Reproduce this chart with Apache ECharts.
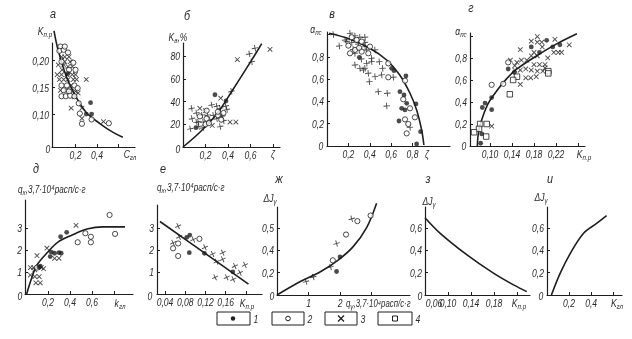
<!DOCTYPE html>
<html><head><meta charset="utf-8">
<script src="https://cdn.jsdelivr.net/npm/echarts@6/dist/echarts.min.js"></script>
<style>html,body{margin:0;padding:0;background:#fff}#c{width:632px;height:339px}</style>
</head><body><div id="c"></div><script>
// ---------- DATA ----------
// panel а
const aCurveX=[0,0.04,0.12,0.21,0.30,0.43,0.55,0.64];
const aCurveY=[0.255,0.218,0.168,0.131,0.104,0.083,0.067,0.058];
const aCross=[[0.05,0.235],[0.10,0.236],[0.07,0.207],[0.10,0.207],[0.14,0.207],[0.10,0.198],[0.15,0.198],[0.04,0.192],[0.09,0.192],[0.13,0.189],[0.17,0.189],[0.075,0.183],[0.03,0.174],[0.07,0.174],[0.12,0.174],[0.17,0.174],[0.20,0.174],[0.05,0.165],[0.09,0.165],[0.13,0.165],[0.18,0.165],[0.21,0.165],[0.30,0.165],[0.16,0.154],[0.06,0.145],[0.105,0.145],[0.15,0.145],[0.20,0.143],[0.225,0.140],[0.16,0.112],[0.26,0.112],[0.26,0.093],[0.46,0.087],[0.19,0.133]];
const aOpen=[[0.06,0.226],[0.05,0.218],[0.09,0.220],[0.13,0.215],[0.07,0.198],[0.18,0.196],[0.14,0.183],[0.20,0.183],[0.07,0.154],[0.12,0.154],[0.19,0.154],[0.22,0.149],[0.09,0.145],[0.14,0.143],[0.07,0.134],[0.11,0.134],[0.15,0.135],[0.19,0.134],[0.23,0.121],[0.24,0.102],[0.26,0.083],[0.35,0.091],[0.51,0.084],[0.10,0.226]];
const aFilled=[[0.34,0.122],[0.30,0.101],[0.35,0.101],[0.13,0.176]];
const aXTicks=[0.2,0.4,0.6], aXLabels=['0,2','0,4',''];
const aYTicks=[0.10,0.15,0.20], aYLabels=['0,10','0,15','0,20'];
// panel б
const bCurveX=[0,0.15,0.30,0.44,0.60,0.70];
const bCurveY=[0,13,29,50,75,91];
const bPlus=[[0.59,82],[0.64,87],[0.61,75],[0.43,49],[0.33,18],[0.136,22],[0.255,37],[0.30,36],[0.33,34],[0.38,36],[0.077,34],[0.12,30],[0.17,28],[0.22,28],[0.27,28],[0.34,28],[0.39,33],[0.08,25],[0.12,22],[0.18,22],[0.24,24],[0.30,25],[0.36,23],[0.14,18],[0.18,17],[0.065,16],[0.35,27]];
const bCross=[[0.773,86],[0.483,77],[0.335,43],[0.418,22],[0.47,22],[0.15,34],[0.20,32],[0.26,19]];
const bOpen=[[0.15,27],[0.21,25],[0.31,28],[0.36,30],[0.34,24],[0.20,20],[0.23,21],[0.21,32],[0.31,31]];
const bFilled=[[0.284,46],[0.382,40.5],[0.115,17]];
const bXTicks=[0.2,0.4,0.6,0.8], bXLabels=['0,2','0,4','0,6',''];
const bYTicks=[20,40,60,80], bYLabels=['20','40','60','80'];
// panel в
const vCurveX=[0.02,0.215,0.40,0.558,0.68,0.776,0.838,0.885,0.906];
const vCurveY=[1.01,0.957,0.876,0.771,0.637,0.473,0.323,0.143,0.009];
const vPlus=[[0.059,1.0],[0.115,0.897],[0.215,1.01],[0.262,0.987],[0.308,0.975],[0.355,0.975],[0.184,0.936],[0.231,0.927],[0.293,0.915],[0.355,0.927],[0.246,0.867],[0.302,0.867],[0.355,0.891],[0.371,0.861],[0.449,0.861],[0.262,0.726],[0.308,0.696],[0.355,0.696],[0.371,0.741],[0.417,0.756],[0.417,0.786],[0.340,0.682],[0.386,0.652],[0.449,0.622],[0.489,0.756],[0.520,0.696],[0.396,0.577],[0.511,0.637],[0.620,0.616],[0.480,0.487],[0.564,0.473],[0.558,0.359],[0.776,0.167],[0.17,0.95],[0.26,0.83],[0.32,0.78]];
const vOpen=[[0.231,0.975],[0.277,0.951],[0.324,0.936],[0.215,0.831],[0.262,0.861],[0.324,0.846],[0.386,0.831],[0.402,0.891],[0.20,0.90],[0.30,0.88],[0.573,0.741],[0.573,0.616],[0.729,0.586],[0.713,0.419],[0.776,0.338],[0.822,0.257],[0.729,0.239],[0.760,0.197],[0.745,0.113]];
const vFilled=[[0.302,0.795],[0.604,0.696],[0.626,0.675],[0.738,0.628],[0.682,0.487],[0.720,0.458],[0.745,0.383],[0.698,0.338],[0.729,0.323],[0.832,0.377],[0.673,0.224],[0.875,0.128],[0.838,0.018]];
const vXTicks=[0.2,0.4,0.6,0.8], vXLabels=['0,2','0,4','0,6','0,8'];
const vYTicks=[0.2,0.4,0.6,0.8,1.0], vYLabels=['0,2','0,4','0,6','0,8',''];
// panel г
const gCurveX=[0.077,0.078,0.082,0.096,0.112,0.13,0.149,0.185,0.222,0.258];
const gCurveY=[0,0.08,0.19,0.38,0.50,0.61,0.70,0.82,0.93,1.02];
const gCross=[[0.186,0.995],[0.175,0.953],[0.186,0.944],[0.194,0.944],[0.218,0.97],[0.244,0.92],[0.216,0.85],[0.224,0.85],[0.23,0.85],[0.155,0.875],[0.18,0.85],[0.175,0.82],[0.186,0.82],[0.137,0.78],[0.149,0.76],[0.157,0.78],[0.167,0.78],[0.18,0.74],[0.19,0.74],[0.20,0.74],[0.145,0.73],[0.145,0.69],[0.155,0.69],[0.165,0.70],[0.175,0.69],[0.186,0.68],[0.196,0.68],[0.20,0.71],[0.165,0.62],[0.174,0.62],[0.184,0.63],[0.155,0.56],[0.103,0.18],[0.205,0.80],[0.195,0.90]];
const gFilled=[[0.203,0.96],[0.214,0.90],[0.227,0.92],[0.175,0.90],[0.19,0.85],[0.133,0.70],[0.144,0.67],[0.103,0.44],[0.091,0.39],[0.086,0.35],[0.103,0.33],[0.085,0.11],[0.083,0.025]];
const gOpen=[[0.133,0.76],[0.124,0.565],[0.103,0.556]];
const gSquare=[[0.149,0.63],[0.142,0.60],[0.206,0.68],[0.206,0.66],[0.136,0.47],[0.082,0.20],[0.094,0.20],[0.08,0.156],[0.071,0.125],[0.093,0.086]];
const gXTicks=[0.10,0.14,0.18,0.22,0.26], gXLabels=['0,10','0,14','0,18','0,22',''];
const gYTicks=[0.2,0.4,0.6,0.8,1.0], gYLabels=['0,2','0,4','0,6','0,8',''];
// panel д
const dCurveX=[0.006,0.055,0.10,0.19,0.29,0.42,0.555,0.70,0.90];
const dCurveY=[0,0.77,1.32,1.86,2.36,2.68,2.95,3.05,3.05];
const dOpen=[[0.76,3.59],[0.81,2.73],[0.54,2.76],[0.59,2.6],[0.59,2.35],[0.47,2.35],[0.10,1.2]];
const dFilled=[[0.37,2.8],[0.315,2.6],[0.23,1.9],[0.26,1.85],[0.30,1.88],[0.32,1.85],[0.22,1.7],[0.13,1.27],[0.12,1.22]];
const dCross=[[0.455,3.12],[0.26,1.62],[0.30,1.62],[0.19,2.08],[0.10,1.74],[0.04,1.2],[0.07,1.2],[0.14,1.2],[0.04,0.86],[0.08,1.1],[0.08,0.79],[0.12,0.79],[0.09,0.51],[0.13,0.51],[0.16,1.15]];
const dXTicks=[0.2,0.4,0.6,0.8], dXLabels=['0,2','0,4','0,6',''];
const dYTicks=[1,2,3], dYLabels=['1','2','3'];
// panel е
const eCurveX=[0.03,0.118,0.205];
const eCurveY=[3.3,1.87,0.45];
const eCross=[[0.066,3.09],[0.068,2.6],[0.096,2.48],[0.056,2.33],[0.119,2.12],[0.134,1.82],[0.154,1.88],[0.154,1.58],[0.142,1.47],[0.178,1.27],[0.198,1.32],[0.188,0.97],[0.162,0.76],[0.175,0.67],[0.139,0.76]];
const eOpen=[[0.108,2.51],[0.066,2.3],[0.056,2.08],[0.066,1.73]];
const eFilled=[[0.089,2.68],[0.083,2.58],[0.088,1.88],[0.118,1.85],[0.174,1.01]];
const eXTicks=[0.04,0.08,0.12,0.16,0.20], eXLabels=['0,04','0,08','0,12','0,16',''];
const eYTicks=[1,2,3], eYLabels=['1','2','3'];
// panel ж
const zhCurveX=[0,0.74,1.39,1.93,2.41,2.84,3.16];
const zhCurveY=[0,0.12,0.21,0.31,0.43,0.60,0.82];
const zhOpen=[[2.97,0.71],[2.55,0.66],[2.19,0.54],[1.77,0.31]];
const zhPlus=[[2.37,0.68],[1.89,0.46],[1.70,0.25],[1.15,0.16],[0.92,0.12]];
const zhFilled=[[2.0,0.34],[1.89,0.21]];
const zhXTicks=[1,2,3], zhXLabels=['1','2',''];
const zhYTicks=[0.2,0.4,0.6], zhYLabels=['0,2','0,4','0,5'];
// panel з
const zCurveX=[0.06,0.086,0.1325,0.179,0.214,0.237];
const zCurveY=[0.69,0.553,0.36,0.195,0.09,0.03];
const zXTicks=[0.06,0.10,0.14,0.18,0.22], zXLabels=['','0,10','0,14','0,18',''];
const zYTicks=[0.2,0.4,0.6], zYLabels=['0,2','0,4','0,6'];
// panel и
const iCurveX=[0.04,0.12,0.21,0.33,0.45,0.54];
const iCurveY=[0,0.195,0.37,0.55,0.64,0.71];
const iXTicks=[0.2,0.4,0.6], iXLabels=['0,2','0,4',''];
const iYTicks=[0.2,0.4,0.6], iYLabels=['0,2','0,4','0,6'];
const legendLabels=['1','2','3','4'];

// ---------- LAYOUT ----------
const FONT="'Liberation Sans',Arial,sans-serif";
const INK='#1e1e1e', TXT='#2a2a2a', SX=0.78;
const P=[
 {left:52,top:43,width:83,height:104,xmin:-0.0186,xmax:0.7535,ymin:0.04,ymax:0.2326,xt:aXTicks,xl:aXLabels,yt:aYTicks,yl:aYLabels},
 {left:183,top:43,width:97,height:104,xmin:0,xmax:0.862,ymin:0,ymax:91.6,xt:bXTicks,xl:bXLabels,yt:bYTicks,yl:bYLabels},
 {left:327,top:32,width:123,height:114,xmin:0,xmax:1.15,ymin:0,ymax:1.022,xt:vXTicks,xl:vXLabels,yt:vYTicks,yl:vYLabels},
 {left:470,top:33,width:115,height:113,xmin:0.0636,xmax:0.2727,ymin:0,ymax:1.027,xt:gXTicks,xl:gXLabels,yt:gYTicks,yl:gYLabels},
 {left:25,top:200,width:108,height:94,xmin:-0.009,xmax:0.973,ymin:0,ymax:4.27,xt:dXTicks,xl:dXLabels,yt:dYTicks,yl:dYLabels},
 {left:157,top:205,width:105,height:89,xmin:0.0242,xmax:0.2317,ymin:0,ymax:4.05,xt:eXTicks,xl:eXLabels,yt:eYTicks,yl:eYLabels},
 {left:277,top:207,width:133,height:88,xmin:0,xmax:4.22,ymin:0,ymax:0.786,xt:zhXTicks,xl:zhXLabels,yt:zhYTicks,yl:zhYLabels},
 {left:425,top:207,width:105,height:88,xmin:0.06,xmax:0.2426,ymin:0,ymax:0.786,xt:zXTicks,xl:zXLabels,yt:zYTicks,yl:zYLabels},
 {left:547,top:207,width:75,height:88,xmin:0,xmax:0.68,ymin:0,ymax:0.786,xt:iXTicks,xl:iXLabels,yt:iYTicks,yl:iYLabels}
];
function axis(k,min,max,ticks){
 return {gridIndex:k,type:'value',min:min,max:max,
  axisLine:{show:true,onZero:false,lineStyle:{color:INK,width:1.2}},
  axisTick:{show:true,inside:true,length:3,customValues:ticks,lineStyle:{color:INK,width:1}},
  axisLabel:{show:false},splitLine:{show:false}};
}
const grids=[],xAxes=[],yAxes=[];
P.forEach((p,k)=>{
 grids.push({left:p.left,top:p.top,width:p.width,height:p.height,containLabel:false,outerBoundsMode:'none'});
 xAxes.push(axis(k,p.xmin,p.xmax,p.xt));
 yAxes.push(axis(k,p.ymin,p.ymax,p.yt));
});
const zip=(xs,ys)=>xs.map((x,i)=>[x,ys[i]]);
const PLUS='path://M4.3,0H5.7V4.3H10V5.7H5.7V10H4.3V5.7H0V4.3H4.3Z';
function line(k,xs,ys){return {type:'line',xAxisIndex:k,yAxisIndex:k,data:zip(xs,ys),smooth:0.35,symbol:'none',clip:false,silent:true,lineStyle:{color:INK,width:1.6},z:2};}
function sc(k,data,kind,rot){
 const s={type:'scatter',xAxisIndex:k,yAxisIndex:k,data:data,silent:true,z:3};
 if(kind==='filled'){s.symbol='circle';s.symbolSize=4.8;s.itemStyle={color:INK};}
 if(kind==='open'){s.symbol='circle';s.symbolSize=5.2;s.itemStyle={color:'#fff',borderColor:INK,borderWidth:1};}
 if(kind==='square'){s.symbol='rect';s.symbolSize=5.5;s.itemStyle={color:'#fff',borderColor:INK,borderWidth:1};}
 if(kind==='cross'){s.symbol=PLUS;s.symbolSize=6.5;s.symbolRotate=rot||0;s.itemStyle={color:INK};}
 return s;
}
const series=[
 line(0,aCurveX,aCurveY),sc(0,aCross,'cross',45),sc(0,aOpen,'open'),sc(0,aFilled,'filled'),
 line(1,bCurveX,bCurveY),sc(1,bPlus,'cross',10),sc(1,bCross,'cross',45),sc(1,bOpen,'open'),sc(1,bFilled,'filled'),
 line(2,vCurveX,vCurveY),sc(2,vPlus,'cross',5),sc(2,vOpen,'open'),sc(2,vFilled,'filled'),
 line(3,gCurveX,gCurveY),sc(3,gCross,'cross',45),sc(3,gOpen,'open'),sc(3,gSquare,'square'),sc(3,gFilled,'filled'),
 line(4,dCurveX,dCurveY),sc(4,dCross,'cross',45),sc(4,dOpen,'open'),sc(4,dFilled,'filled'),
 line(5,eCurveX,eCurveY),sc(5,eCross,'cross',25),sc(5,eOpen,'open'),sc(5,eFilled,'filled'),
 line(6,zhCurveX,zhCurveY),sc(6,zhPlus,'cross',15),sc(6,zhOpen,'open'),sc(6,zhFilled,'filled'),
 line(7,zCurveX,zCurveY),
 line(8,iCurveX,iCurveY)
];
const chart=echarts.init(document.getElementById('c'),null,{renderer:'canvas'});
chart.setOption({animation:false,backgroundColor:'#fff',grid:grids,xAxis:xAxes,yAxis:yAxes,series:series});

// ---------- TEXT / GRAPHICS ----------
const RICH={s:{fontSize:8,fontFamily:FONT,fontStyle:'italic',fill:TXT,padding:[6,0,0,0]},n:{fontSize:11,fontFamily:FONT,fontStyle:'italic',fill:TXT}};
function T(x,y,text,opt){opt=opt||{};return {type:'text',x:x,y:y,scaleX:opt.sx||SX,silent:true,z:10,style:{text:text,fill:TXT,font:'italic '+(opt.size||11)+'px '+FONT,textAlign:opt.align||'center',textVerticalAlign:'middle',rich:RICH}};}
const graphic=[];
// tick labels, placed through the axes' own scales
P.forEach((p,k)=>{
 p.xt.forEach((v,i)=>{ if(!p.xl[i]) return; const pt=chart.convertToPixel({xAxisIndex:k,yAxisIndex:k},[v,p.ymin]); graphic.push(T(pt[0],pt[1]+8.5,p.xl[i])); });
 p.yt.forEach((v,i)=>{ if(!p.yl[i]) return; const pt=chart.convertToPixel({xAxisIndex:k,yAxisIndex:k},[p.xmin,v]); graphic.push(T(pt[0]-3,pt[1]+1,p.yl[i],{align:'right'})); });
});
const texts=[
 ['{n|K}{s|п.р}',45,32],['{n|K}{s|в}{n|,%}',178,38],['{n|α}{s|пс}',316,30],['{n|α}{s|пс}',461,32],
 ['{n|ΔJ}{s|γ}',270,199],['{n|ΔJ}{s|γ}',429,202],['{n|ΔJ}{s|γ}',541,198],
 ['{n|C}{s|гл}',130,155],['ζ',273,155],['ζ',427,155],['{n|K}{s|п.р}',584,155],
 ['{n|k}{s|гл}',120,304],['{n|K}{s|п.р}',247,304],['{n|K}{s|п.р}',519,304],['{n|K}{s|гл}',617,304],
 ['0',48,150],['0',178,150],['0',321,147],['0',464,147],['0',20,297],['0',150,297],['0',272,297],['0',420,297],['0',541,297],
 ['0,06',434,303.5]
];
texts.forEach(t=>graphic.push(T(t[1],t[2],t[0])));
[['а',53,15],['б',187,17],['в',332,15],['г',471,9],['д',36,170],['е',163,170],['ж',279,180],['з',428,180],['и',550,180]]
 .forEach(t=>graphic.push(T(t[1],t[2],t[0],{size:12,sx:0.9})));
graphic.push(T(18,190,'q{s|х},3,7·10⁴расп/с·г',{align:'left',size:10.5}));
graphic.push(T(157,188,'q{s|х},3,7·10⁴расп/с·г',{align:'left',size:10.5}));
graphic.push(T(346,304,'q{s|γ},3,7·10⁴расп/с·г',{align:'left',size:10}));
// legend
const LB=[[217,33],[272,32],[325,32],[378,34]];
LB.forEach((b,i)=>{
 graphic.push({type:'rect',silent:true,shape:{x:b[0],y:312,width:b[1],height:13},style:{fill:'none',stroke:INK,lineWidth:1}});
 graphic.push(T(b[0]+b[1]+6,320,legendLabels[i],{size:11}));
});
graphic.push({type:'circle',silent:true,shape:{cx:233,cy:318.5,r:2.2},style:{fill:INK}});
graphic.push({type:'circle',silent:true,shape:{cx:288,cy:318.5,r:2.3},style:{fill:'#fff',stroke:INK,lineWidth:1}});
graphic.push({type:'line',silent:true,shape:{x1:338,y1:315.5,x2:344,y2:321.5},style:{stroke:INK,lineWidth:1.2}});
graphic.push({type:'line',silent:true,shape:{x1:344,y1:315.5,x2:338,y2:321.5},style:{stroke:INK,lineWidth:1.2}});
graphic.push({type:'rect',silent:true,shape:{x:392.5,y:316,width:5,height:5},style:{fill:'#fff',stroke:INK,lineWidth:1}});
chart.setOption({graphic:graphic});
</script></body></html>
